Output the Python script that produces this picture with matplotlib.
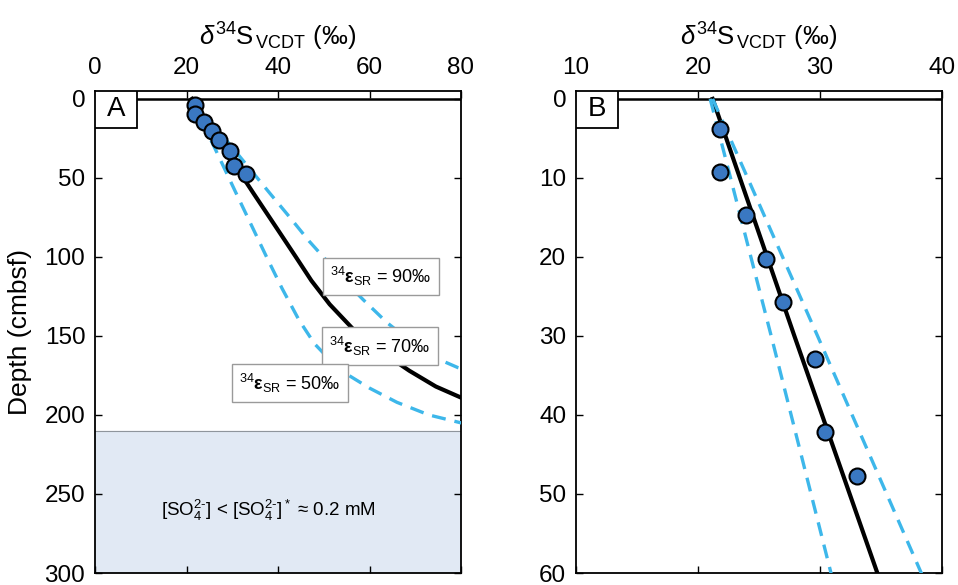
import matplotlib
matplotlib.use('Agg')
import matplotlib.pyplot as plt
from matplotlib.patches import Rectangle

plt.rcParams['font.family'] = ['Liberation Sans', 'DejaVu Sans']
plt.rcParams['mathtext.fontset'] = 'custom'
plt.rcParams['mathtext.rm'] = 'Liberation Sans'
plt.rcParams['mathtext.it'] = 'Liberation Sans:italic'
plt.rcParams['mathtext.bf'] = 'Liberation Sans:bold'

# measured porewater sulfate d34S
obs_depth = [3.8, 9.3, 14.7, 20.2, 25.7, 32.9, 42.2, 47.7]
obs_d34s = [21.8, 21.8, 23.9, 25.6, 27.0, 29.6, 30.4, 33.0]

# model curves (depth, d34S)
eps70_depth = [0, 30, 60, 83, 100, 115, 130, 145, 160, 172, 182, 189, 194]
eps70_d34s = [21.2, 27.9, 34.7, 40.0, 43.9, 47.3, 51.3, 56.2, 62.6, 68.7, 74.5, 80.0, 86.0]

eps90_depth = [0, 30, 60, 75, 90, 100, 115, 127, 141.5, 154, 164.6, 170, 174]
eps90_d34s = [21.2, 29.8, 38.3, 42.6, 46.8, 49.9, 54.5, 58.6, 63.8, 69.2, 75.0, 79.3, 84.0]

eps50_depth = [0, 30, 60, 100, 120, 140, 155, 165, 175, 183, 192, 200, 205, 209]
eps50_d34s = [21.0, 26.0, 30.9, 37.5, 40.9, 44.6, 48.0, 51.3, 55.5, 60.0, 66.0, 73.0, 80.0, 86.0]

eps_labels = ['90', '70', '50']
eps_label_pos = [(62.5, 112.3), (62.3, 156.5), (42.6, 179.8)]

low_sulfate_top = 210

fig = plt.figure(figsize=(9.58, 5.85), dpi=100)
axA = fig.add_axes([95/958, 12/585, 366/958, 482/585])
axB = fig.add_axes([576/958, 12/585, 366/958, 482/585])

dash_blue = '#3DB7EA'
dot_blue = '#3A78C2'
xlabel = r'$\delta^{34}$S$_{\,\mathrm{VCDT}}$ (‰)'


def draw_panel(ax, letter):
    ax.axhline(0, color='black', lw=1.8, zorder=2)
    ax.plot(eps70_d34s, eps70_depth, color='black', lw=3, zorder=3)
    for d, s in [(eps90_depth, eps90_d34s), (eps50_depth, eps50_d34s)]:
        ax.plot(s, d, color=dash_blue, lw=2.4, dashes=(4.2, 2.7), zorder=4)
    ax.plot(obs_d34s, obs_depth, 'o', ms=11.5, mfc=dot_blue, mec='black',
            mew=1.5, zorder=6)
    ax.xaxis.set_label_position('top')
    ax.set_xlabel(xlabel, fontsize=18.5, labelpad=8)
    ax.tick_params(which='both', direction='in', top=True, right=True,
                   bottom=True, left=True, labeltop=True, labelbottom=False,
                   labelsize=17.5, length=5, width=1)
    ax.tick_params(axis='x', pad=9)
    ax.tick_params(axis='y', pad=7)
    for sp in ax.spines.values():
        sp.set_linewidth(1.3)
    box = Rectangle((0, 1), 42/366, -37/482, transform=ax.transAxes,
                    fc='white', ec='black', lw=1.3, zorder=7)
    ax.add_patch(box)
    ax.text(21/366, 1 - 18.5/482, letter, transform=ax.transAxes,
            ha='center', va='center', fontsize=20, zorder=8)


draw_panel(axA, 'A')
axA.set_xlim(0, 80)
axA.set_ylim(300, -5)
axA.set_xticks([0, 20, 40, 60, 80])
axA.set_yticks([0, 50, 100, 150, 200, 250, 300])
axA.set_ylabel('Depth (cmbsf)', fontsize=19, labelpad=9)
axA.axhspan(low_sulfate_top, 300, color='#E1E9F4', zorder=1)
axA.axhline(low_sulfate_top, color='#8F959C', lw=0.8, zorder=1)
axA.text(37.8, 260.5, r'[SO$_4^{2\text{-}}$] < [SO$_4^{2\text{-}}$]$^*$ ≈ 0.2 mM',
         ha='center', va='center', fontsize=13.5, zorder=2)
for lab, (x, y) in zip(eps_labels, eps_label_pos):
    axA.text(x, y, r'$^{34}\mathbf{\varepsilon}_{\mathrm{SR}}$ = ' + lab + '‰',
             ha='center', va='center', fontsize=13, zorder=9,
             bbox=dict(boxstyle='square,pad=0.4', fc='white', ec='#9A9A9A', lw=1))

draw_panel(axB, 'B')
axB.set_xlim(10, 40)
axB.set_ylim(60, -1)
axB.set_xticks([10, 20, 30, 40])
axB.set_yticks([0, 10, 20, 30, 40, 50, 60])

fig.savefig('out.png', dpi=100)
